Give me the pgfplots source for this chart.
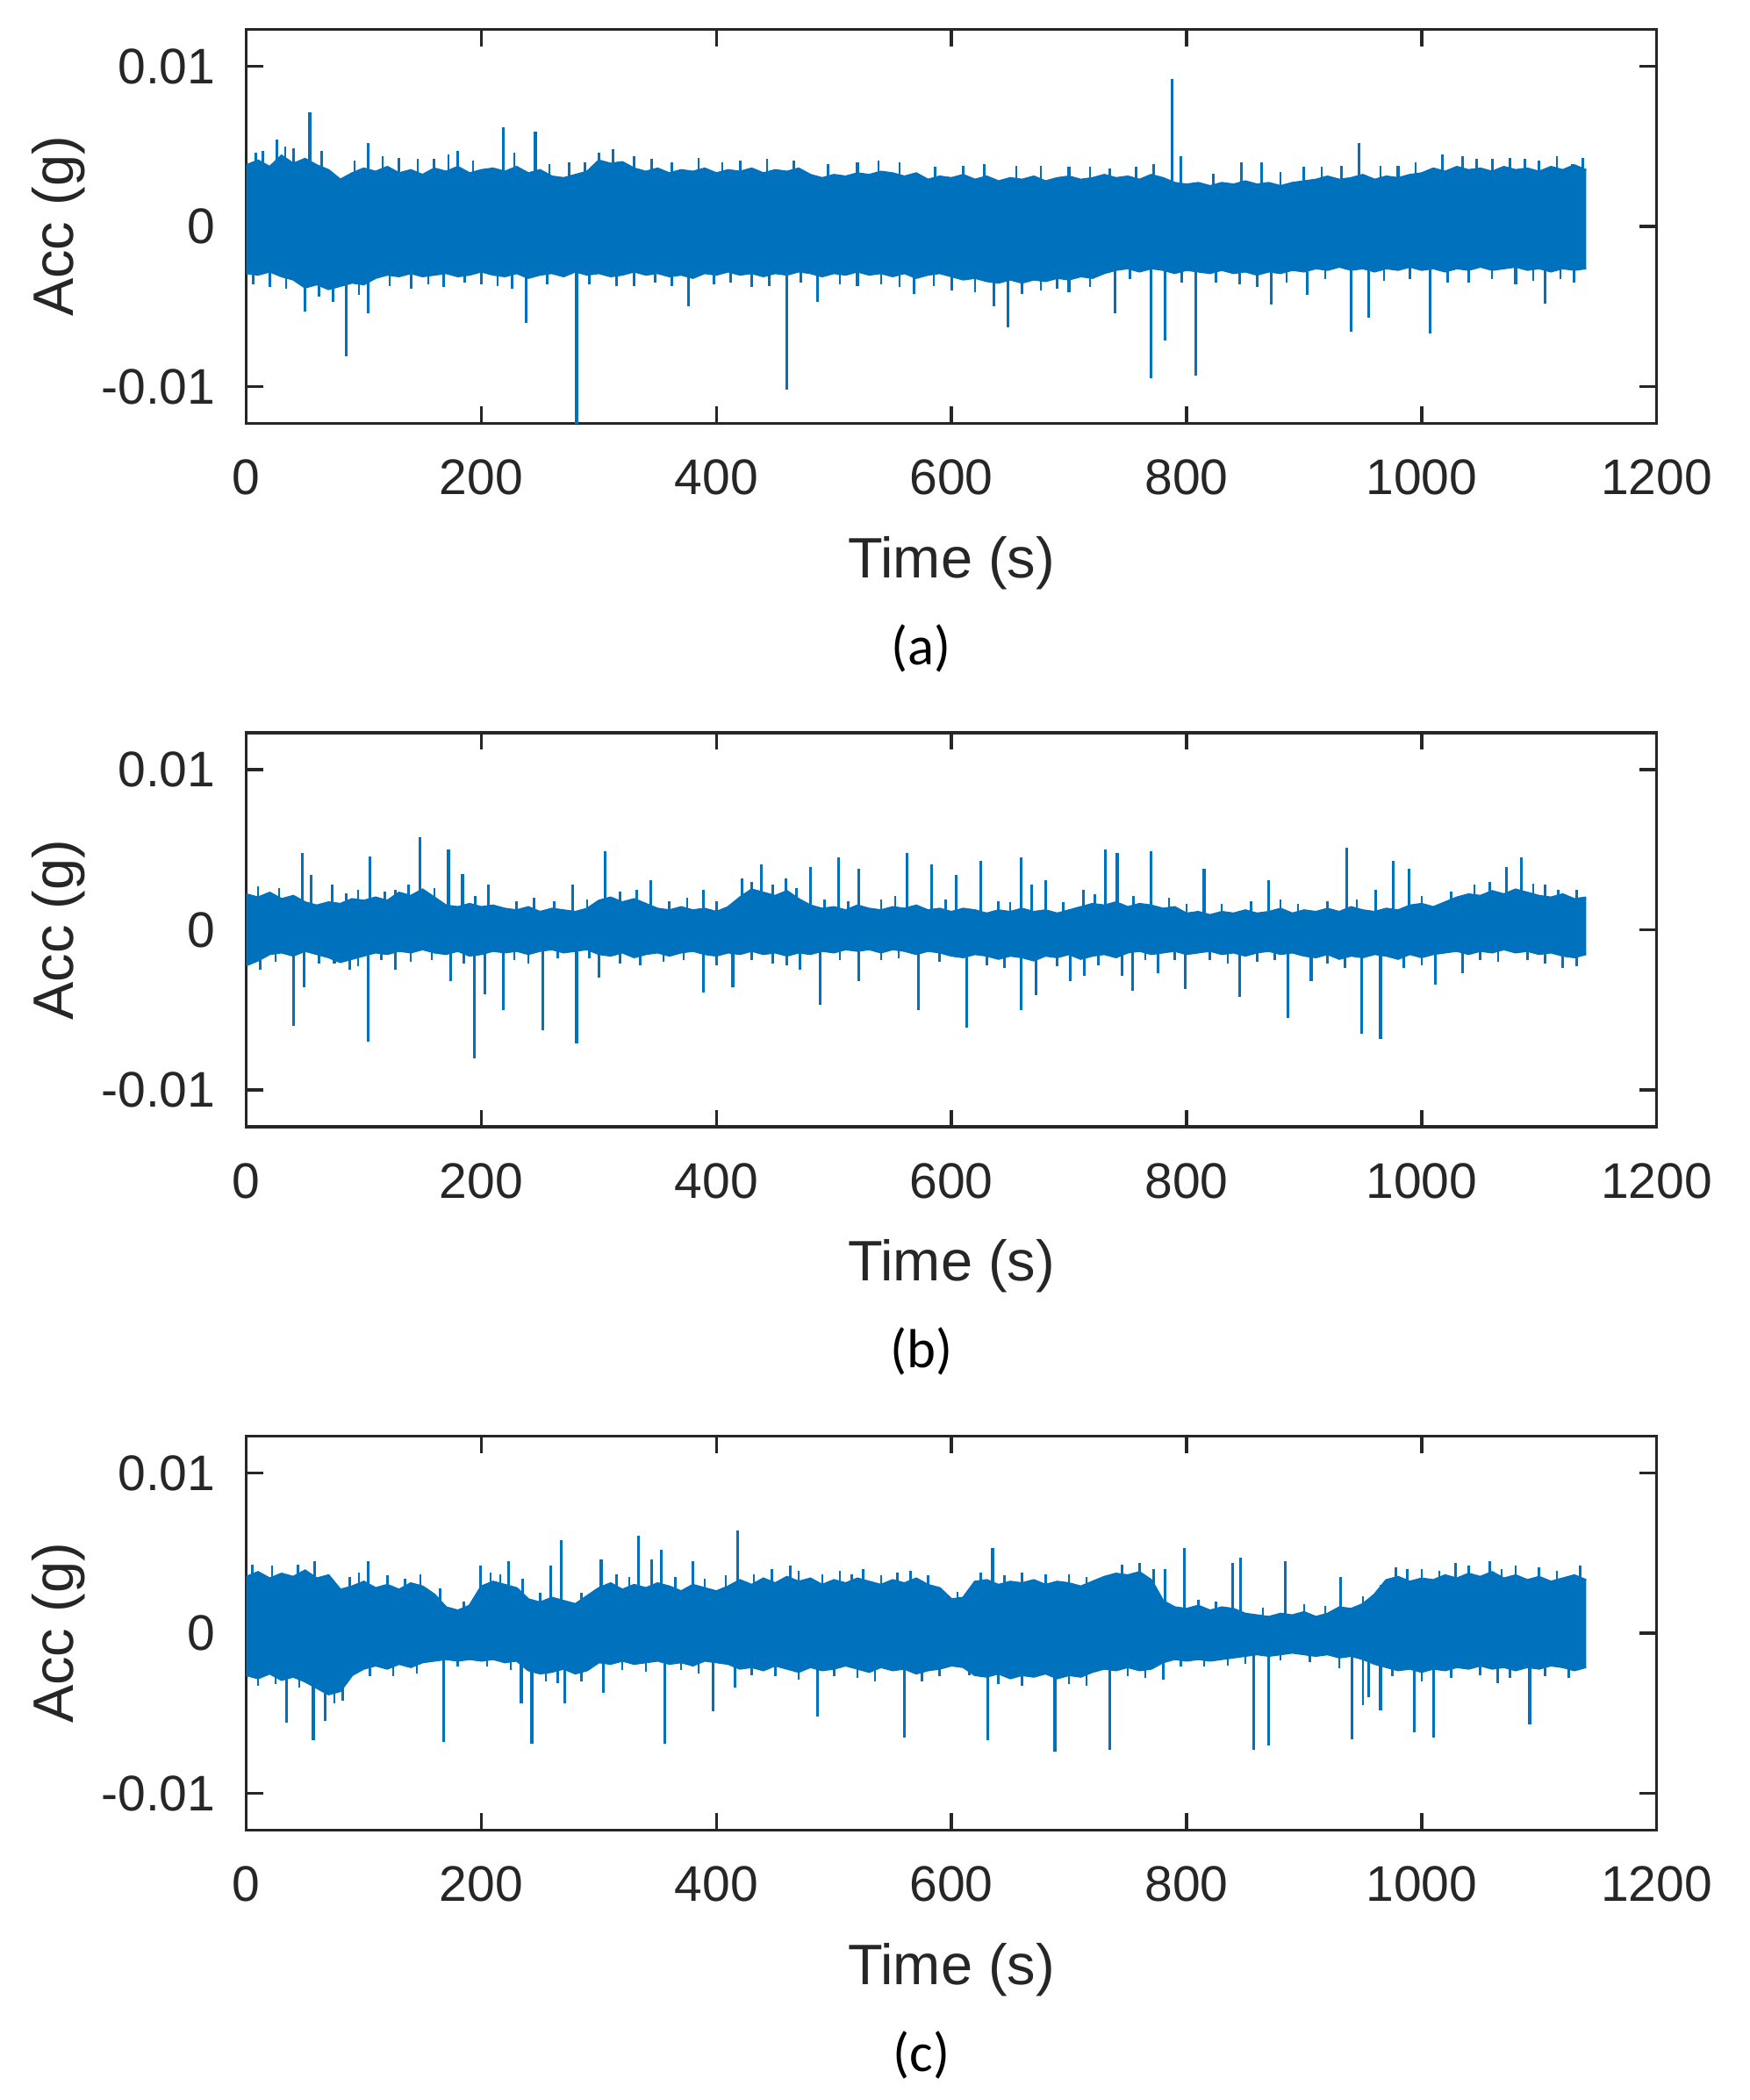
\documentclass[border=0pt]{standalone}
\usepackage{fontspec}
\setmainfont{Liberation Sans}
\newfontfamily\carlito{Carlito}
\usepackage{pgfplots}
\pgfplotsset{compat=1.18}
\usepackage{pgfplotstable}
\usepgfplotslibrary{fillbetween}
\definecolor{mblue}{RGB}{0,114,189}
\definecolor{mgray}{RGB}{38,38,38}

% envelopes of the dense signal: t (s), upper (g), lower (g)
\pgfplotstableread{
t u l
0 0.0038 -0.0029
10 0.0041 -0.0030
20 0.0037 -0.0028
30 0.0044 -0.0031
40 0.0039 -0.0033
50 0.0042 -0.0038
60 0.0038 -0.0036
70 0.0035 -0.0039
80 0.0029 -0.0037
90 0.0033 -0.0035
100 0.0036 -0.0036
110 0.0034 -0.0032
120 0.0037 -0.0030
130 0.0033 -0.0031
140 0.0035 -0.0029
150 0.0032 -0.0031
160 0.0036 -0.0030
170 0.0034 -0.0029
180 0.0037 -0.0031
190 0.0033 -0.0030
200 0.0035 -0.0028
210 0.0036 -0.0030
220 0.0034 -0.0031
230 0.0037 -0.0029
240 0.0033 -0.0032
250 0.0035 -0.0030
260 0.0031 -0.0029
270 0.0030 -0.0031
280 0.0032 -0.0028
290 0.0034 -0.0030
300 0.0041 -0.0029
310 0.0039 -0.0031
320 0.0040 -0.0030
330 0.0036 -0.0028
340 0.0034 -0.0030
350 0.0036 -0.0029
360 0.0033 -0.0031
370 0.0035 -0.0030
380 0.0034 -0.0032
390 0.0036 -0.0029
400 0.0033 -0.0030
410 0.0035 -0.0028
420 0.0034 -0.0030
430 0.0036 -0.0029
440 0.0033 -0.0031
450 0.0035 -0.0029
460 0.0034 -0.0030
470 0.0036 -0.0028
480 0.0032 -0.0029
490 0.0030 -0.0031
500 0.0032 -0.0029
510 0.0031 -0.0030
520 0.0033 -0.0028
530 0.0032 -0.0030
540 0.0034 -0.0029
550 0.0033 -0.0031
560 0.0031 -0.0029
570 0.0033 -0.0032
580 0.0029 -0.0030
590 0.0031 -0.0029
600 0.0030 -0.0031
610 0.0032 -0.0033
620 0.0029 -0.0032
630 0.0031 -0.0034
640 0.0028 -0.0035
650 0.0030 -0.0033
660 0.0029 -0.0035
670 0.0031 -0.0033
680 0.0028 -0.0034
690 0.0030 -0.0032
700 0.0031 -0.0033
710 0.0029 -0.0031
720 0.0030 -0.0032
730 0.0032 -0.0029
740 0.0030 -0.0027
750 0.0031 -0.0026
760 0.0029 -0.0028
770 0.0032 -0.0026
780 0.0030 -0.0027
790 0.0027 -0.0029
800 0.0026 -0.0027
810 0.0027 -0.0028
820 0.0025 -0.0029
830 0.0027 -0.0027
840 0.0026 -0.0029
850 0.0028 -0.0028
860 0.0026 -0.0030
870 0.0027 -0.0028
880 0.0025 -0.0029
890 0.0027 -0.0027
900 0.0028 -0.0028
910 0.0029 -0.0026
920 0.0031 -0.0027
930 0.0029 -0.0025
940 0.0030 -0.0027
950 0.0032 -0.0026
960 0.0029 -0.0028
970 0.0031 -0.0026
980 0.0030 -0.0027
990 0.0032 -0.0025
1000 0.0033 -0.0027
1010 0.0036 -0.0026
1020 0.0034 -0.0028
1030 0.0037 -0.0026
1040 0.0035 -0.0027
1050 0.0036 -0.0025
1060 0.0034 -0.0027
1070 0.0037 -0.0026
1080 0.0035 -0.0025
1090 0.0036 -0.0027
1100 0.0034 -0.0026
1110 0.0037 -0.0028
1120 0.0035 -0.0026
1130 0.0038 -0.0027
1140 0.0035 -0.0026
}\bandA

\pgfplotstableread{
t u l
0 0.0022 -0.0022
10 0.0020 -0.0019
20 0.0023 -0.0015
30 0.0019 -0.0014
40 0.0021 -0.0016
50 0.0017 -0.0013
60 0.0015 -0.0015
70 0.0017 -0.0017
80 0.0016 -0.0020
90 0.0019 -0.0018
100 0.0018 -0.0016
110 0.0020 -0.0014
120 0.0018 -0.0015
130 0.0023 -0.0013
140 0.0021 -0.0014
150 0.0025 -0.0012
160 0.0020 -0.0014
170 0.0015 -0.0015
180 0.0014 -0.0013
190 0.0016 -0.0016
200 0.0014 -0.0015
210 0.0015 -0.0013
220 0.0013 -0.0014
230 0.0012 -0.0013
240 0.0014 -0.0015
250 0.0011 -0.0013
260 0.0013 -0.0012
270 0.0012 -0.0014
280 0.0011 -0.0013
290 0.0013 -0.0012
300 0.0018 -0.0015
310 0.0020 -0.0016
320 0.0017 -0.0014
330 0.0019 -0.0017
340 0.0016 -0.0015
350 0.0013 -0.0014
360 0.0012 -0.0016
370 0.0014 -0.0014
380 0.0012 -0.0013
390 0.0013 -0.0015
400 0.0011 -0.0016
410 0.0014 -0.0014
420 0.0020 -0.0015
430 0.0025 -0.0013
440 0.0023 -0.0015
450 0.0021 -0.0014
460 0.0024 -0.0016
470 0.0019 -0.0014
480 0.0015 -0.0015
490 0.0013 -0.0013
500 0.0014 -0.0014
510 0.0012 -0.0012
520 0.0015 -0.0013
530 0.0013 -0.0012
540 0.0012 -0.0014
550 0.0014 -0.0012
560 0.0013 -0.0013
570 0.0015 -0.0015
580 0.0012 -0.0013
590 0.0013 -0.0014
600 0.0011 -0.0016
610 0.0013 -0.0017
620 0.0012 -0.0015
630 0.0010 -0.0016
640 0.0012 -0.0018
650 0.0011 -0.0016
660 0.0013 -0.0017
670 0.0011 -0.0019
680 0.0012 -0.0016
690 0.0010 -0.0017
700 0.0012 -0.0015
710 0.0014 -0.0018
720 0.0016 -0.0016
730 0.0015 -0.0015
740 0.0017 -0.0017
750 0.0014 -0.0014
760 0.0016 -0.0013
770 0.0015 -0.0015
780 0.0013 -0.0014
790 0.0014 -0.0013
800 0.0010 -0.0015
810 0.0011 -0.0014
820 0.0009 -0.0013
830 0.0011 -0.0015
840 0.0010 -0.0014
850 0.0012 -0.0016
860 0.0010 -0.0014
870 0.0011 -0.0013
880 0.0013 -0.0015
890 0.0010 -0.0014
900 0.0012 -0.0016
910 0.0011 -0.0017
920 0.0013 -0.0015
930 0.0011 -0.0018
940 0.0014 -0.0016
950 0.0012 -0.0017
960 0.0011 -0.0015
970 0.0013 -0.0016
980 0.0012 -0.0018
990 0.0015 -0.0015
1000 0.0016 -0.0017
1010 0.0014 -0.0015
1020 0.0017 -0.0014
1030 0.0020 -0.0013
1040 0.0022 -0.0015
1050 0.0021 -0.0013
1060 0.0024 -0.0014
1070 0.0022 -0.0012
1080 0.0025 -0.0014
1090 0.0023 -0.0013
1100 0.0021 -0.0015
1110 0.0020 -0.0014
1120 0.0022 -0.0016
1130 0.0019 -0.0017
1140 0.0020 -0.0015
}\bandB

\pgfplotstableread{
t u l
0 0.0035 -0.0026
10 0.0038 -0.0028
20 0.0034 -0.0025
30 0.0037 -0.0029
40 0.0035 -0.0027
50 0.0039 -0.0030
60 0.0034 -0.0034
70 0.0036 -0.0038
80 0.0027 -0.0036
90 0.0029 -0.0026
100 0.0032 -0.0022
110 0.0028 -0.0020
120 0.0030 -0.0022
130 0.0027 -0.0019
140 0.0031 -0.0021
150 0.0029 -0.0018
160 0.0024 -0.0017
170 0.0016 -0.0016
180 0.0014 -0.0017
190 0.0017 -0.0016
200 0.0029 -0.0017
210 0.0032 -0.0016
220 0.0030 -0.0018
230 0.0028 -0.0017
240 0.0021 -0.0023
250 0.0019 -0.0025
260 0.0022 -0.0024
270 0.0020 -0.0022
280 0.0018 -0.0025
290 0.0023 -0.0023
300 0.0028 -0.0018
310 0.0031 -0.0019
320 0.0027 -0.0017
330 0.0030 -0.0019
340 0.0028 -0.0018
350 0.0031 -0.0017
360 0.0029 -0.0019
370 0.0026 -0.0018
380 0.0030 -0.0020
390 0.0028 -0.0017
400 0.0026 -0.0018
410 0.0029 -0.0019
420 0.0033 -0.0022
430 0.0030 -0.0021
440 0.0034 -0.0023
450 0.0031 -0.0020
460 0.0035 -0.0022
470 0.0032 -0.0024
480 0.0034 -0.0021
490 0.0030 -0.0023
500 0.0033 -0.0022
510 0.0031 -0.0020
520 0.0034 -0.0022
530 0.0032 -0.0024
540 0.0030 -0.0021
550 0.0033 -0.0023
560 0.0031 -0.0022
570 0.0034 -0.0025
580 0.0030 -0.0023
590 0.0028 -0.0022
600 0.0021 -0.0020
610 0.0022 -0.0021
620 0.0032 -0.0026
630 0.0033 -0.0027
640 0.0030 -0.0025
650 0.0032 -0.0028
660 0.0031 -0.0026
670 0.0033 -0.0027
680 0.0030 -0.0025
690 0.0032 -0.0028
700 0.0031 -0.0026
710 0.0029 -0.0027
720 0.0032 -0.0024
730 0.0035 -0.0022
740 0.0037 -0.0023
750 0.0036 -0.0021
760 0.0038 -0.0023
770 0.0033 -0.0022
780 0.0020 -0.0018
790 0.0016 -0.0016
800 0.0015 -0.0017
810 0.0017 -0.0016
820 0.0014 -0.0017
830 0.0016 -0.0016
840 0.0015 -0.0015
850 0.0012 -0.0014
860 0.0011 -0.0013
870 0.0010 -0.0014
880 0.0012 -0.0013
890 0.0011 -0.0012
900 0.0013 -0.0013
910 0.0010 -0.0014
920 0.0012 -0.0013
930 0.0016 -0.0015
940 0.0015 -0.0014
950 0.0018 -0.0016
960 0.0024 -0.0019
970 0.0033 -0.0021
980 0.0035 -0.0023
990 0.0032 -0.0022
1000 0.0034 -0.0024
1010 0.0033 -0.0022
1020 0.0036 -0.0023
1030 0.0034 -0.0021
1040 0.0037 -0.0022
1050 0.0035 -0.0020
1060 0.0038 -0.0022
1070 0.0034 -0.0021
1080 0.0036 -0.0023
1090 0.0033 -0.0021
1100 0.0035 -0.0022
1110 0.0032 -0.0020
1120 0.0034 -0.0021
1130 0.0036 -0.0023
1140 0.0033 -0.0021
}\bandC

\pgfplotsset{
  accstyle/.style={
    scale only axis, width=281.93pt, height=78.77pt,
    anchor=north west,
    xmin=0, xmax=1200, ymin=-0.0123, ymax=0.0123,
    xtick={0,200,400,600,800,1000,1200},
    xticklabels={0,200,400,600,800,1000,1200},
    ytick={-0.01,0,0.01},
    yticklabels={-0.01,0,0.01},
    scaled y ticks=false,
    major tick length=3.4pt,
    tick align=inside,
    axis line style={mgray, line width=0.6pt},
    every tick/.style={mgray, line width=0.6pt},
    ticklabel style={font=\fontsize{10}{12}\selectfont, text=mgray, inner sep=0pt},
    xticklabel style={anchor=north, yshift=-7.1pt},
    yticklabel style={anchor=east, xshift=-6pt},
    every axis x label/.style={at={(axis description cs:0.5,-0.391)}, anchor=base, inner sep=0pt, font=\fontsize{11.4}{13.5}\selectfont, text=mgray},
    every axis y label/.style={at={(axis description cs:-0.1224,0.5)}, rotate=90, anchor=base, inner sep=0pt, font=\fontsize{11.4}{13.5}\selectfont, text=mgray},
    xlabel={Time (s)}, ylabel={Acc (g)},
  },
  edge/.style={mblue, line width=0.5pt, mark=none},
  spike/.style={mblue, ycomb, line width=0.55pt, mark=none},
  fine/.style={mblue, ycomb, line width=0.45pt, mark=none},
}

\begin{document}
\begin{tikzpicture}
\path (0,0) rectangle (349.82pt,-419.82pt);

% ---------------- (a) ----------------
\begin{axis}[accstyle, at={(49.23pt,-5.877pt)}]
\addplot[edge, name path=ua] table[x=t,y=u]{\bandA};
\addplot[edge, name path=la] table[x=t,y=l]{\bandA};
\addplot[mblue, draw=none] fill between[of=ua and la];
\addplot[spike] coordinates {
(26,0.0054) (54,0.0071) (104,0.0052) (180,0.0047) (219,0.0062) (246,0.0059) (300,0.0046)
(788,0.0092) (795,0.0044) (847,0.0040) (864,0.0040) (947,0.0052) (1018,0.0045) (1128,0.0039)
(14,0.0047) (40,0.0049) (130,0.0043) (160,0.0042) (275,0.0040) (330,0.0044) (420,0.0041)
(520,0.0040) (610,0.0038) (700,0.0037) (735,0.0036) (900,0.0037) (980,0.0038) (1060,0.0042) (1100,0.0041)
(50,-0.0053) (85,-0.0081) (104,-0.0054) (238,-0.0060) (281,-0.0126) (376,-0.0050) (460,-0.0102)
(486,-0.0047) (568,-0.0042) (636,-0.0050) (648,-0.0063) (739,-0.0054) (770,-0.0095) (782,-0.0071)
(808,-0.0093) (872,-0.0049) (903,-0.0043) (940,-0.0066) (955,-0.0057) (1007,-0.0067) (1105,-0.0048)
(20,-0.0038) (140,-0.0039) (200,-0.0036) (330,-0.0037) (430,-0.0038) (520,-0.0037) (600,-0.0040)
(700,-0.0041) (860,-0.0038) (1040,-0.0035) (1080,-0.0036) (1130,-0.0035)
};
\addplot[fine] coordinates {
(8,0.0046) (33,0.0050) (64,0.0047) (92,0.0041) (116,0.0044) (146,0.0042) (172,0.0045) (193,0.0041)
(228,0.0046) (258,0.0039) (288,0.0040) (312,0.0048) (345,0.0042) (362,0.0040) (385,0.0043) (405,0.0040)
(443,0.0042) (466,0.0041) (495,0.0039) (538,0.0041) (556,0.0040) (586,0.0037) (628,0.0039) (655,0.0038)
(676,0.0038) (718,0.0037) (757,0.0037) (772,0.0039) (823,0.0033) (880,0.0034) (915,0.0037) (932,0.0038)
(965,0.0038) (995,0.0040) (1035,0.0044) (1047,0.0042) (1075,0.0043) (1088,0.0042) (1115,0.0044) (1137,0.0043)
(6,-0.0036) (34,-0.0039) (62,-0.0044) (74,-0.0047) (96,-0.0043) (122,-0.0037) (155,-0.0036) (168,-0.0038)
(186,-0.0035) (214,-0.0037) (226,-0.0039) (256,-0.0036) (292,-0.0036) (315,-0.0037) (348,-0.0035) (362,-0.0037)
(398,-0.0036) (412,-0.0035) (445,-0.0037) (472,-0.0035) (505,-0.0036) (540,-0.0036) (556,-0.0038) (585,-0.0037)
(620,-0.0041) (660,-0.0042) (676,-0.0040) (690,-0.0039) (718,-0.0038) (752,-0.0033) (796,-0.0035) (825,-0.0035)
(845,-0.0036) (885,-0.0035) (918,-0.0033) (968,-0.0034) (990,-0.0033) (1022,-0.0035) (1060,-0.0033) (1095,-0.0034) (1118,-0.0033)
};
\end{axis}

% ---------------- (b) ----------------
\begin{axis}[accstyle, at={(49.23pt,-146.49pt)}]
\addplot[edge, name path=ub] table[x=t,y=u]{\bandB};
\addplot[edge, name path=lb] table[x=t,y=l]{\bandB};
\addplot[mblue, draw=none] fill between[of=ub and lb];
\addplot[spike] coordinates {
(48,0.0048) (55,0.0034) (73,0.0028) (105,0.0046) (127,0.0025) (148,0.0058) (172,0.0050)
(184,0.0035) (206,0.0028) (278,0.0028) (305,0.0049) (344,0.0031) (389,0.0025) (422,0.0032)
(438,0.0041) (459,0.0032) (480,0.0039) (504,0.0045) (521,0.0038) (562,0.0048) (583,0.0041)
(604,0.0034) (625,0.0043) (659,0.0045) (668,0.0028) (680,0.0031) (712,0.0025) (731,0.0050)
(741,0.0048) (770,0.0049) (815,0.0038) (870,0.0031) (936,0.0051) (961,0.0025) (976,0.0043)
(989,0.0038) (1072,0.0039) (1085,0.0045) (1116,0.0025)
(40,-0.0060) (49,-0.0036) (75,-0.0021) (104,-0.0070) (127,-0.0025) (174,-0.0032) (194,-0.0080)
(203,-0.0040) (219,-0.0050) (252,-0.0063) (281,-0.0071) (300,-0.0030) (389,-0.0039) (414,-0.0036)
(471,-0.0025) (488,-0.0047) (521,-0.0032) (572,-0.0050) (613,-0.0061) (659,-0.0050) (672,-0.0041)
(701,-0.0032) (713,-0.0029) (745,-0.0029) (754,-0.0038) (776,-0.0027) (799,-0.0037) (845,-0.0042)
(886,-0.0055) (906,-0.0032) (949,-0.0065) (965,-0.0068) (1012,-0.0034) (1035,-0.0027) (1120,-0.0024)
};
\addplot[fine] coordinates {
(10,0.0027) (28,0.0026) (85,0.0023) (95,0.0025) (118,0.0024) (138,0.0028) (160,0.0026) (195,0.0021)
(230,0.0018) (245,0.0020) (262,0.0018) (290,0.0019) (318,0.0024) (332,0.0025) (360,0.0018) (375,0.0020)
(400,0.0018) (430,0.0030) (448,0.0028) (468,0.0026) (492,0.0019) (512,0.0018) (540,0.0019) (552,0.0021)
(595,0.0019) (640,0.0018) (650,0.0017) (695,0.0017) (722,0.0022) (755,0.0021) (785,0.0020) (800,0.0016)
(830,0.0016) (855,0.0018) (880,0.0019) (895,0.0016) (920,0.0018) (945,0.0019) (1000,0.0021) (1025,0.0024)
(1045,0.0028) (1058,0.0030) (1095,0.0029) (1105,0.0028) (1132,0.0025)
(12,-0.0025) (25,-0.0020) (62,-0.0021) (88,-0.0025) (95,-0.0023) (115,-0.0019) (140,-0.0020) (158,-0.0019)
(185,-0.0021) (228,-0.0019) (240,-0.0021) (265,-0.0018) (292,-0.0018) (318,-0.0021) (335,-0.0022) (355,-0.0020)
(372,-0.0019) (400,-0.0022) (430,-0.0019) (448,-0.0021) (460,-0.0022) (505,-0.0019) (540,-0.0019) (555,-0.0018)
(590,-0.0020) (630,-0.0022) (645,-0.0024) (690,-0.0023) (725,-0.0022) (765,-0.0019) (790,-0.0019) (820,-0.0019)
(835,-0.0021) (860,-0.0020) (875,-0.0019) (920,-0.0021) (935,-0.0024) (985,-0.0024) (1000,-0.0022) (1050,-0.0019)
(1065,-0.0020) (1090,-0.0019) (1105,-0.0021) (1132,-0.0023)
};
\end{axis}

% ---------------- (c) ----------------
\begin{axis}[accstyle, at={(49.23pt,-287.11pt)}]
\addplot[edge, name path=uc] table[x=t,y=u]{\bandC};
\addplot[edge, name path=lc] table[x=t,y=l]{\bandC};
\addplot[mblue, draw=none] fill between[of=uc and lc];
\addplot[spike] coordinates {
(104,0.0045) (199,0.0042) (223,0.0045) (259,0.0042) (268,0.0058) (302,0.0046) (334,0.0061)
(345,0.0046) (353,0.0052) (380,0.0045) (418,0.0064) (463,0.0042) (525,0.0040) (554,0.0038)
(635,0.0053) (782,0.0040) (798,0.0053) (839,0.0044) (846,0.0047) (884,0.0045) (931,0.0035)
(988,0.0040) (1029,0.0044) (1058,0.0045)
(34,-0.0056) (57,-0.0067) (67,-0.0055) (168,-0.0068) (234,-0.0044) (243,-0.0069) (271,-0.0044)
(304,-0.0037) (356,-0.0069) (397,-0.0049) (416,-0.0034) (486,-0.0052) (560,-0.0065) (631,-0.0067)
(688,-0.0074) (735,-0.0073) (780,-0.0029) (857,-0.0073) (870,-0.0070) (941,-0.0066) (965,-0.0048)
(994,-0.0062) (1010,-0.0065) (1065,-0.0031) (1092,-0.0057)
};
\addplot[fine] coordinates {
(5,0.0043) (22,0.0042) (44,0.0043) (58,0.0045) (88,0.0035) (96,0.0038) (120,0.0036) (135,0.0034)
(148,0.0037) (165,0.0028) (185,0.0020) (208,0.0038) (216,0.0037) (235,0.0034) (250,0.0025) (285,0.0025)
(315,0.0037) (326,0.0035) (365,0.0035) (390,0.0034) (408,0.0036) (432,0.0037) (447,0.0040) (470,0.0039)
(490,0.0037) (505,0.0039) (515,0.0037) (540,0.0036) (565,0.0039) (580,0.0036) (605,0.0026) (625,0.0038)
(645,0.0036) (660,0.0038) (680,0.0037) (700,0.0037) (715,0.0035) (745,0.0043) (760,0.0044) (772,0.0040)
(810,0.0021) (825,0.0020) (865,0.0016) (900,0.0018) (918,0.0017) (950,0.0023) (965,0.0030) (978,0.0041)
(1000,0.0040) (1015,0.0039) (1040,0.0042) (1068,0.0040) (1080,0.0042) (1100,0.0041) (1115,0.0039) (1135,0.0042)
(10,-0.0033) (25,-0.0032) (45,-0.0034) (75,-0.0044) (82,-0.0042) (105,-0.0027) (125,-0.0027) (145,-0.0025)
(180,-0.0021) (205,-0.0021) (225,-0.0023) (255,-0.0030) (265,-0.0031) (285,-0.0030) (320,-0.0023) (340,-0.0024)
(370,-0.0023) (385,-0.0025) (430,-0.0026) (450,-0.0027) (470,-0.0029) (500,-0.0027) (520,-0.0028) (535,-0.0030)
(575,-0.0030) (590,-0.0027) (615,-0.0026) (640,-0.0032) (660,-0.0033) (700,-0.0032) (715,-0.0033) (750,-0.0027)
(765,-0.0028) (795,-0.0021) (815,-0.0021) (835,-0.0020) (850,-0.0019) (880,-0.0017) (905,-0.0018) (930,-0.0022)
(950,-0.0045) (955,-0.0040) (975,-0.0027) (1000,-0.0030) (1025,-0.0028) (1050,-0.0026) (1075,-0.0028) (1105,-0.0027) (1125,-0.0028)
};
\end{axis}

\node[font=\carlito\fontsize{11}{13}\selectfont, anchor=base, inner sep=0pt] at (184.2pt,-132.81pt) {(a)};
\node[font=\carlito\fontsize{11}{13}\selectfont, anchor=base, inner sep=0pt] at (184.2pt,-273.42pt) {(b)};
\node[font=\carlito\fontsize{11}{13}\selectfont, anchor=base, inner sep=0pt] at (184.2pt,-414.04pt) {(c)};
\end{tikzpicture}
\end{document}
